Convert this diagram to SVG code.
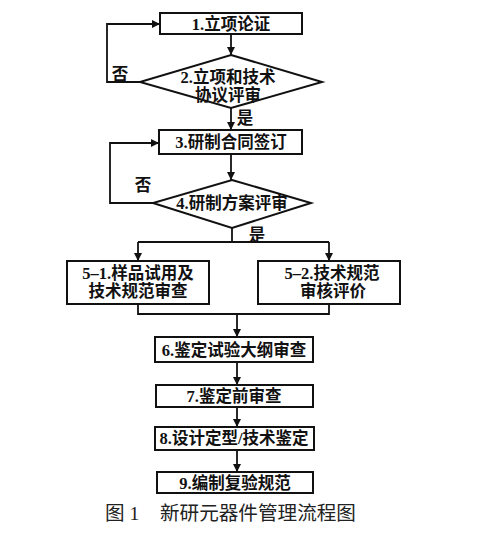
<svg xmlns="http://www.w3.org/2000/svg" width="480" height="534" viewBox="0 0 480 534">
<defs>
<marker id="ah" viewBox="0 0 10 10" refX="10" refY="5" markerWidth="8" markerHeight="8" markerUnits="userSpaceOnUse" orient="auto">
<path d="M0,0 L10,5 L0,10 z" fill="#111"/>
</marker>
<style>
.box{fill:#fff;stroke:#111;stroke-width:2}
.t{font-family:"Liberation Serif","Noto Sans CJK SC",serif;font-size:16.5px;font-weight:bold;fill:#111;text-anchor:middle;dominant-baseline:central}
.c{font-family:"Liberation Serif","Noto Sans CJK SC",serif;font-size:19.6px;fill:#222;dominant-baseline:central}
.ln{fill:none;stroke:#111;stroke-width:1.8}
</style>
</defs>
<rect width="480" height="534" fill="#fff"/>
<g id="connectors">
<path class="ln" d="M231,34 V55" marker-end="url(#ah)"/>
<path class="ln" d="M140,82 H107 V24 H160" marker-end="url(#ah)"/>
<path class="ln" d="M231,108 V130" marker-end="url(#ah)"/>
<path class="ln" d="M231,154 V180" marker-end="url(#ah)"/>
<path class="ln" d="M153,203 H110 V143 H159" marker-end="url(#ah)"/>
<path class="ln" d="M232,228 V242"/>
<path class="ln" d="M138,242 H329"/>
<path class="ln" d="M138,242 V261" marker-end="url(#ah)"/>
<path class="ln" d="M329,242 V261" marker-end="url(#ah)"/>
<path class="ln" d="M138,304 V314 H329 V304"/>
<path class="ln" d="M237,314 V337" marker-end="url(#ah)"/>
<path class="ln" d="M237,362 V385" marker-end="url(#ah)"/>
<path class="ln" d="M237,407 V427" marker-end="url(#ah)"/>
<path class="ln" d="M237,450 V472" marker-end="url(#ah)"/>
<text class="t" x="120" y="74">否</text>
<text class="t" x="245" y="118">是</text>
<text class="t" x="143" y="185">否</text>
<text class="t" x="257" y="235">是</text>
</g>
<g id="n1"><rect class="box" x="160" y="13" width="142" height="21"/><text class="t" x="231" y="24">1.立项论证</text></g>
<g id="n2"><polygon class="box" points="231,55 322,82 231,108 140,82"/><text class="t" x="228" y="77">2.立项和技术</text><text class="t" x="228" y="95">协议评审</text></g>
<g id="n3"><rect class="box" x="159" y="130" width="143" height="24"/><text class="t" x="231" y="142">3.研制合同签订</text></g>
<g id="n4"><polygon class="box" points="232,180 311,203 232,228 153,203"/><text class="t" x="232" y="203">4.研制方案评审</text></g>
<g id="n51"><rect class="box" x="67" y="261" width="142" height="43"/><text class="t" x="138" y="273">5–1.样品试用及</text><text class="t" x="138" y="291">技术规范审查</text></g>
<g id="n52"><rect class="box" x="258" y="261" width="142" height="43"/><text class="t" x="332" y="273">5–2.技术规范</text><text class="t" x="333" y="291">审核评价</text></g>
<g id="n6"><rect class="box" x="155" y="337" width="158" height="25"/><text class="t" x="234" y="350">6.鉴定试验大纲审查</text></g>
<g id="n7"><rect class="box" x="156" y="385" width="157" height="22"/><text class="t" x="234" y="396">7.鉴定前审查</text></g>
<g id="n8"><rect class="box" x="155" y="427" width="159" height="23"/><text class="t" x="234" y="438">8.设计定型/技术鉴定</text></g>
<g id="n9"><rect class="box" x="157" y="472" width="156" height="21"/><text class="t" x="235" y="483">9.编制复验规范</text></g>
<text class="c" x="105" y="513">图 1</text>
<text class="c" x="160" y="513">新研元器件管理流程图</text>
</svg>
